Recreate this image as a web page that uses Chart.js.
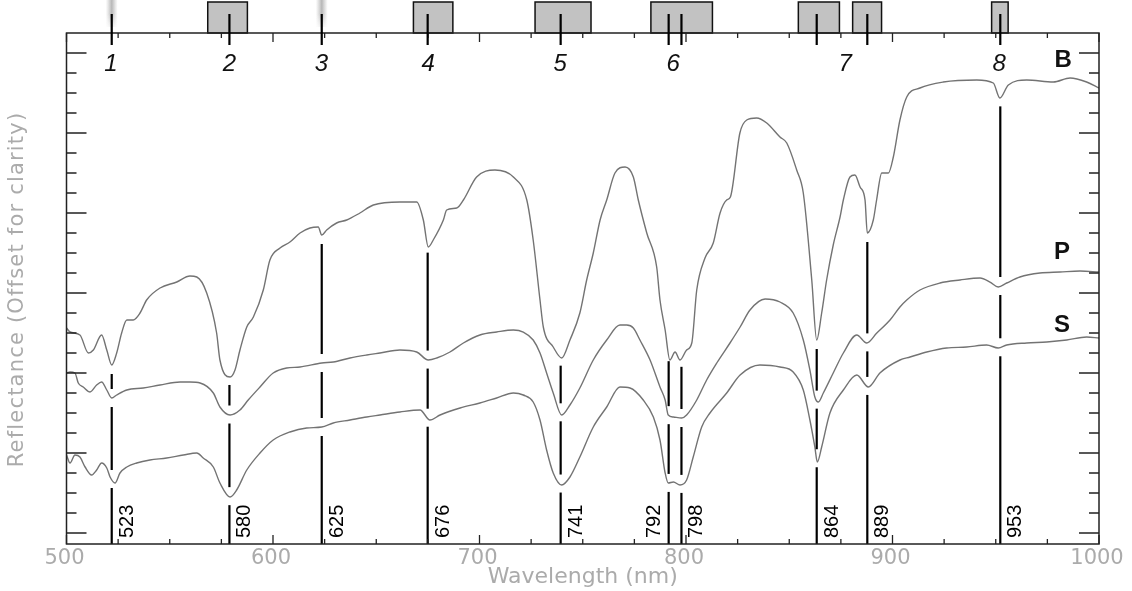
<!DOCTYPE html>
<html>
<head>
<meta charset="utf-8">
<title>Reflectance spectra B / P / S</title>
<script src="https://cdn.jsdelivr.net/npm/chart.js@4.4.0/dist/chart.umd.min.js"></script>
<style>
  html, body { margin: 0; padding: 0; background: #fff; }
  #wrap { width: 1132px; height: 591px; }
</style>
</head>
<body>
<div id="wrap"><canvas id="spectra" width="1132" height="591"></canvas></div>
<script>
// ============================================================================
// DATA =======================================================================
// ============================================================================

// spectrum B (top curve)
const bWave = [500, 501.7, 506.5, 510.6, 513.0, 517.0, 519.5, 521.9, 524.3, 526.7, 529.2, 532.3, 535.6, 538.8,
  545.3, 553.4, 559.8, 563.1, 567.9, 572.7, 574.3, 579.2, 581.6, 584.0, 587.3, 590.5, 595.3, 598.5, 603.4,
  608.2, 613.1, 617.9, 621.9, 623.6, 626.0, 630.8, 635.7, 642.1, 648.6, 661.5, 669.6, 672.8, 675.2, 677.6,
  682.5, 684.1, 689.0, 692.2, 698.6, 707.5, 716.4, 722.9, 726.0, 729.3, 730.9, 735.7, 739.8, 743.8, 748.6,
  751.9, 755.1, 758.4, 761.6, 765.6, 770.5, 774.5, 776.9, 781.0, 785.8, 787.4, 789.9, 792.2, 794.7, 797.1,
  800.3, 802.8, 805.2, 809.2, 813.2, 816.5, 819.7, 821.5, 826.1, 829.4, 834.2, 839.1, 845.5, 848.8, 853.6,
  856.8, 860.9, 863.3, 865.7, 868.1, 871.3, 874.6, 876.2, 879.4, 881.8, 884.3, 886.7, 887.8, 890.7, 892.3,
  894.8, 898.0, 900.4, 903.6, 906.9, 913.3, 924.6, 940.8, 948.8, 952.0, 956.1, 965.0, 977.9, 986.0, 994.0, 1000];
const bRefl = [2.05, 2.01, 1.98, 1.80, 1.83, 1.98, 1.83, 1.68, 1.80, 2.00, 2.13, 2.13, 2.20, 2.33,
  2.45, 2.51, 2.57, 2.56, 2.40, 2.00, 1.73, 1.56, 1.63, 1.83, 2.06, 2.16, 2.43, 2.73, 2.85,
  2.91, 3.00, 3.05, 3.06, 2.98, 3.03, 3.10, 3.13, 3.20, 3.28, 3.31, 3.31, 3.13, 2.86, 2.93,
  3.13, 3.23, 3.25, 3.33, 3.56, 3.63, 3.56, 3.33, 2.93, 2.33, 2.06, 1.86, 1.75, 1.93, 2.20,
  2.53, 2.80, 3.13, 3.33, 3.60, 3.66, 3.56, 3.33, 3.00, 2.66, 2.33, 2.03, 1.73, 1.81, 1.73,
  1.83, 1.90, 2.43, 2.75, 2.90, 3.20, 3.33, 3.36, 4.00, 4.13, 4.15, 4.10, 3.96, 3.90, 3.63,
  3.40, 2.53, 1.93, 2.20, 2.53, 2.88, 3.16, 3.33, 3.56, 3.58, 3.46, 3.33, 3.00, 3.13, 3.33,
  3.60, 3.60, 3.76, 4.13, 4.36, 4.45, 4.51, 4.53, 4.50, 4.35, 4.48, 4.53, 4.51, 4.55, 4.51, 4.45];

// spectrum P (middle curve)
const pWave = [500, 501.7, 504.1, 505.7, 508.1, 511.4, 514.6, 517.0, 519.5, 521.9, 524.3, 529.2, 537.2, 545.3,
  555.0, 559.8, 564.7, 571.1, 574.3, 579.2, 584.0, 588.0, 593.7, 600.1, 606.6, 613.1, 623.6, 629.2, 637.3,
  645.4, 651.8, 661.5, 669.6, 675.2, 679.3, 685.7, 692.2, 700.2, 708.3, 716.4, 721.2, 726.0, 729.3, 732.5,
  735.7, 739.8, 743.8, 748.6, 755.1, 761.6, 768.0, 771.3, 774.5, 777.7, 782.6, 787.4, 789.9, 791.4, 793.9,
  797.9, 800.3, 805.2, 810.0, 814.9, 821.3, 826.2, 831.0, 838.3, 845.5, 851.9, 856.8, 860.0, 862.4, 864.1,
  866.5, 871.3, 876.2, 882.7, 887.5, 892.4, 898.8, 903.6, 906.9, 913.3, 923.0, 932.7, 942.4, 947.2, 951.2,
  955.3, 961.7, 971.4, 981.1, 990.8, 1000];
const pRefl = [1.60, 1.61, 1.60, 1.50, 1.46, 1.41, 1.48, 1.51, 1.43, 1.35, 1.38, 1.43, 1.45, 1.48,
  1.51, 1.51, 1.50, 1.40, 1.26, 1.18, 1.23, 1.33, 1.46, 1.60, 1.65, 1.66, 1.70, 1.71, 1.75,
  1.78, 1.80, 1.83, 1.81, 1.73, 1.75, 1.81, 1.90, 1.98, 2.01, 2.03, 2.01, 1.93, 1.80, 1.60,
  1.40, 1.18, 1.28, 1.45, 1.73, 1.93, 2.08, 2.08, 2.05, 1.93, 1.73, 1.46, 1.33, 1.18, 1.16,
  1.15, 1.18, 1.33, 1.53, 1.70, 1.90, 2.06, 2.23, 2.34, 2.31, 2.20, 1.93, 1.63, 1.36, 1.31,
  1.40, 1.60, 1.80, 1.98, 1.90, 2.00, 2.13, 2.26, 2.33, 2.43, 2.50, 2.53, 2.55, 2.51, 2.46,
  2.50, 2.56, 2.60, 2.61, 2.62, 2.61];

// spectrum S (bottom curve)
const sWave = [500, 501.7, 504.1, 506.5, 509.0, 512.2, 514.6, 517.0, 519.5, 521.1, 523.5, 525.9, 529.2, 534.0,
  540.4, 548.5, 556.6, 563.1, 566.2, 571.1, 574.3, 579.2, 582.4, 587.3, 593.7, 600.1, 608.2, 616.3, 623.6,
  629.2, 637.3, 645.4, 651.8, 661.5, 671.2, 676.0, 680.9, 690.6, 700.2, 708.3, 716.4, 721.2, 726.0, 729.3,
  732.5, 735.7, 739.8, 743.8, 748.6, 755.1, 761.6, 768.0, 772.9, 779.3, 784.2, 787.4, 789.9, 791.4, 793.9,
  797.1, 800.3, 803.5, 807.6, 811.6, 819.7, 826.2, 835.8, 845.5, 851.9, 856.8, 860.0, 862.4, 863.6, 865.7,
  869.7, 876.2, 882.7, 888.3, 893.9, 903.6, 908.5, 916.6, 926.2, 935.9, 945.6, 951.2, 955.3, 965.0, 974.7,
  984.4, 994.0, 1000];
const sRefl = [0.78, 0.70, 0.78, 0.76, 0.66, 0.58, 0.63, 0.70, 0.65, 0.56, 0.50, 0.60, 0.66, 0.70,
  0.73, 0.75, 0.78, 0.80, 0.75, 0.66, 0.50, 0.36, 0.43, 0.63, 0.80, 0.93, 1.01, 1.05, 1.06,
  1.10, 1.13, 1.16, 1.18, 1.21, 1.23, 1.13, 1.18, 1.25, 1.30, 1.35, 1.40, 1.38, 1.31, 1.13,
  0.83, 0.60, 0.48, 0.56, 0.76, 1.06, 1.26, 1.46, 1.45, 1.33, 1.16, 0.93, 0.60, 0.50, 0.51,
  0.48, 0.53, 0.76, 1.06, 1.20, 1.40, 1.58, 1.68, 1.66, 1.61, 1.43, 1.13, 0.86, 0.71, 0.86,
  1.20, 1.43, 1.58, 1.46, 1.60, 1.73, 1.76, 1.81, 1.85, 1.86, 1.88, 1.85, 1.88, 1.90, 1.91,
  1.93, 1.96, 1.95];

// absorption features: where the black lines sit, and the text printed beside them
const lineWave = [521.9, 578.9, 623.6, 674.9, 739.3, 791.6, 797.8, 863.3, 887.8, 952.2];
const lineLabel = ['523', '580', '625', '676', '741', '792', '798', '864', '889', '953'];

// filter bands drawn as grey boxes above the frame (nm)
const boxStart = [568.4, 668.0, 726.9, 783.0, 854.4, 880.7, 948.0];
const boxEnd   = [587.6, 687.1, 754.0, 812.8, 874.3, 894.7, 956.0];
// narrow bands drawn as soft grey smudges
const smudgeWave = [521.9, 623.6];

// band numbers on top
const bandNumWave = [521.5, 578.9, 623.4, 675.2, 739.1, 793.8, 877.1, 951.7];
const bandNumText = ['1', '2', '3', '4', '5', '6', '7', '8'];

// x axis labels
const xTickLabels = [500, 600, 700, 800, 900, 1000];

// ============================================================================
// helpers ====================================================================
// ============================================================================
function toPoints(waves, refl) {
  return waves.map((w, i) => ({ x: w, y: refl[i] }));
}

// straight line interpolation inside one spectrum, used to know where the curve is
function valueAt(waves, refl, w) {
  for (let i = 1; i < waves.length; i++) {
    if (waves[i] >= w) {
      const t = (w - waves[i - 1]) / (waves[i] - waves[i - 1]);
      return refl[i - 1] + t * (refl[i] - refl[i - 1]);
    }
  }
  return refl[refl.length - 1];
}

const GREY_TEXT = '#ababab';

// ============================================================================
// everything that is not a spectrum: frame, ticks, lines, boxes, texts
// ============================================================================
const overlayPlugin = {
  id: 'overlay',
  afterDatasetsDraw(chart) {
    const ctx = chart.ctx;
    const xs = chart.scales.x;
    const ys = chart.scales.y;
    const area = chart.chartArea;
    const gap = 9;

    // black feature lines, broken where they cross each spectrum
    ctx.save();
    ctx.strokeStyle = '#000';
    ctx.lineWidth = 2.2;
    lineWave.forEach(w => {
      const px = xs.getPixelForValue(w);
      const yB = ys.getPixelForValue(valueAt(bWave, bRefl, w));
      const yP = ys.getPixelForValue(valueAt(pWave, pRefl, w));
      const yS = ys.getPixelForValue(valueAt(sWave, sRefl, w));
      const segs = [[yB + gap, yP - gap], [yP + gap, yS - gap], [yS + gap, area.bottom]];
      segs.forEach(s => {
        if (s[1] > s[0]) {
          ctx.beginPath();
          ctx.moveTo(px, s[0]);
          ctx.lineTo(px, s[1]);
          ctx.stroke();
        }
      });
    });

    // wavelength numbers, rotated, next to each line (792 sits on the left)
    ctx.fillStyle = '#000';
    ctx.font = '20px "Liberation Sans", Arial, sans-serif';
    ctx.textBaseline = 'middle';
    ctx.textAlign = 'left';
    lineWave.forEach((w, i) => {
      const side = lineLabel[i] === '792' ? -15 : 14.5;
      ctx.save();
      ctx.translate(xs.getPixelForValue(w) + side, area.bottom - 6);
      ctx.rotate(-Math.PI / 2);
      ctx.fillText(lineLabel[i], 0, 1);
      ctx.restore();
    });
    ctx.restore();
  },

  afterDraw(chart) {
    const ctx = chart.ctx;
    const xs = chart.scales.x;
    const ys = chart.scales.y;
    const area = chart.chartArea;

    ctx.save();

    // soft smudges for bands 1 and 3
    smudgeWave.forEach(w => {
      const px = xs.getPixelForValue(w);
      const g = ctx.createLinearGradient(px - 6, 0, px + 6, 0);
      g.addColorStop(0, 'rgba(190,190,190,0)');
      g.addColorStop(0.5, 'rgba(175,175,175,0.9)');
      g.addColorStop(1, 'rgba(190,190,190,0)');
      ctx.fillStyle = g;
      ctx.fillRect(px - 6, 0, 12, 27);
      const fade = ctx.createLinearGradient(0, 14, 0, 30);
      fade.addColorStop(0, 'rgba(255,255,255,0)');
      fade.addColorStop(1, 'rgba(255,255,255,1)');
      ctx.fillStyle = fade;
      ctx.fillRect(px - 6, 14, 12, 16);
    });

    // grey filter boxes
    ctx.fillStyle = '#c2c2c2';
    ctx.strokeStyle = '#111';
    ctx.lineWidth = 1.5;
    boxStart.forEach((w, i) => {
      const x1 = xs.getPixelForValue(w);
      const x2 = xs.getPixelForValue(boxEnd[i]);
      ctx.fillRect(x1, 2, x2 - x1, area.top - 2);
      ctx.strokeRect(x1, 2, x2 - x1, area.top - 2);
    });

    // frame
    ctx.strokeStyle = '#222';
    ctx.lineWidth = 1.5;
    ctx.strokeRect(area.left, area.top, area.right - area.left, area.bottom - area.top);

    // x ticks every 25 nm, pointing inwards on both sides
    ctx.lineWidth = 1.3;
    ctx.beginPath();
    for (let w = 500; w <= 1000; w += 25) {
      const px = xs.getPixelForValue(w);
      const len = w % 100 === 0 ? 9 : 5;
      ctx.moveTo(px, area.bottom);
      ctx.lineTo(px, area.bottom - len);
      ctx.moveTo(px, area.top);
      ctx.lineTo(px, area.top + len);
    }
    // y ticks every 0.2, long every 0.8
    for (let k = 0; k <= 24; k++) {
      const py = ys.getPixelForValue(k * 0.2);
      const len = k % 4 === 0 ? 20 : 10;
      ctx.moveTo(area.left, py);
      ctx.lineTo(area.left + len, py);
      ctx.moveTo(area.right, py);
      ctx.lineTo(area.right - len, py);
    }
    ctx.stroke();

    // short marks of the band positions crossing the top edge
    ctx.strokeStyle = '#000';
    ctx.lineWidth = 2.2;
    ctx.beginPath();
    lineWave.forEach(w => {
      const px = xs.getPixelForValue(w);
      ctx.moveTo(px, area.top - 19);
      ctx.lineTo(px, area.top + 12);
    });
    ctx.stroke();

    // band numbers
    ctx.fillStyle = '#111';
    ctx.font = 'italic 24px "Liberation Sans", Arial, sans-serif';
    ctx.textAlign = 'center';
    ctx.textBaseline = 'middle';
    bandNumWave.forEach((w, i) => {
      ctx.fillText(bandNumText[i], xs.getPixelForValue(w), 64);
    });

    // curve names
    ctx.font = 'bold 24px "Liberation Sans", Arial, sans-serif';
    const nameX = xs.getPixelForValue(982.6);
    ctx.fillText('B', nameX, ys.getPixelForValue(4.73));
    ctx.fillText('P', nameX - 1, ys.getPixelForValue(2.81));
    ctx.fillText('S', nameX - 1, ys.getPixelForValue(2.08));

    // x tick labels and axis titles in light grey
    ctx.fillStyle = GREY_TEXT;
    ctx.font = '21px "DejaVu Sans", sans-serif';
    xTickLabels.forEach(v => {
      ctx.fillText(String(v), xs.getPixelForValue(v) - 2, area.bottom + 15);
    });
    ctx.font = '22px "DejaVu Sans", sans-serif';
    ctx.fillText('Wavelength (nm)', (area.left + area.right) / 2, area.bottom + 33);

    ctx.save();
    ctx.translate(17.5, (area.top + area.bottom) / 2 + 1);
    ctx.rotate(-Math.PI / 2);
    ctx.font = '21px "DejaVu Sans", sans-serif';
    ctx.letterSpacing = '1.2px';
    ctx.fillText('Reflectance (Offset for clarity)', 0, 0);
    ctx.restore();

    ctx.restore();
  }
};

// ============================================================================
// CREATE THE CHART ===========================================================
// ============================================================================
const curveStyle = {
  borderColor: '#737373',
  borderWidth: 1.4,
  pointRadius: 0,
  fill: false,
  cubicInterpolationMode: 'monotone' // smooth but no overshoot between read points
};

const spectraData = {
  datasets: [
    Object.assign({ label: 'B', data: toPoints(bWave, bRefl) }, curveStyle),
    Object.assign({ label: 'P', data: toPoints(pWave, pRefl) }, curveStyle),
    Object.assign({ label: 'S', data: toPoints(sWave, sRefl) }, curveStyle)
  ]
};

const spectraConfig = {
  type: 'line',
  data: spectraData,
  options: {
    responsive: false,
    animation: false,
    events: [],
    layout: {
      padding: { left: 66.5, right: 33, top: 33, bottom: 47 }
    },
    scales: {
      x: { type: 'linear', min: 500, max: 1000, display: false },
      y: { type: 'linear', min: -0.11, max: 5.0, display: false }
    },
    plugins: {
      legend: { display: false },
      tooltip: { enabled: false }
    }
  },
  plugins: [overlayPlugin]
};

new Chart(document.getElementById('spectra'), spectraConfig);
</script>
</body>
</html>
